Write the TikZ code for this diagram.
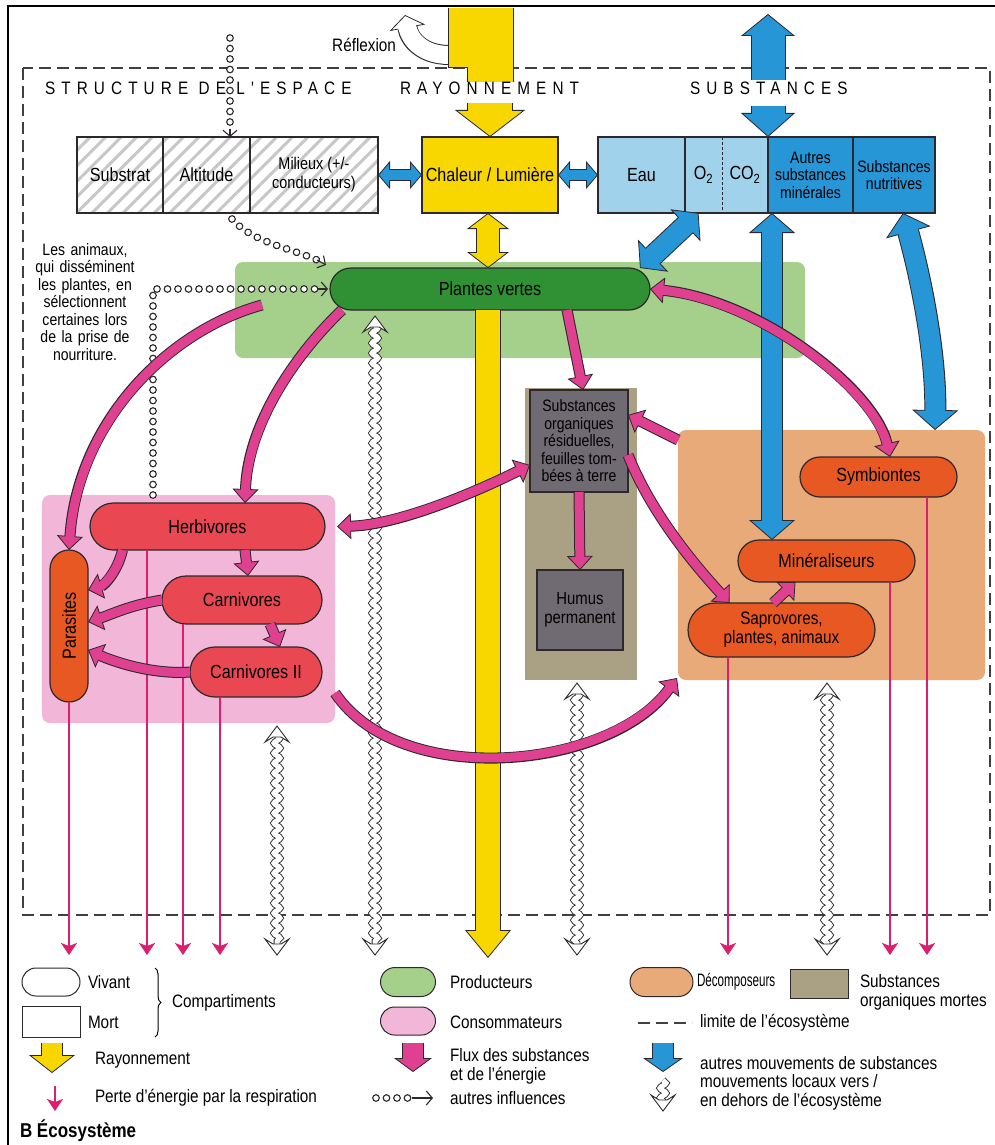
\documentclass[tikz,border=0pt]{standalone}
\usepackage{fontspec}
\usepackage{graphicx}
\setmainfont[FakeStretch=0.85]{Liberation Sans}
\newfontfamily\hdrfont[FakeStretch=0.85,LetterSpace=34]{Liberation Sans}
\usetikzlibrary{arrows.meta,decorations.pathmorphing,decorations.markings,decorations.pathreplacing,patterns.meta,shapes.misc,calc}
\definecolor{yel}{RGB}{248,214,0}
\definecolor{lblue}{RGB}{160,210,236}
\definecolor{dblue}{RGB}{38,150,214}
\definecolor{dgreen}{RGB}{48,145,52}
\definecolor{lgreen}{RGB}{165,208,140}
\definecolor{lpink}{RGB}{242,182,216}
\definecolor{rednode}{RGB}{233,72,82}
\definecolor{orgnode}{RGB}{232,88,34}
\definecolor{decbgc}{RGB}{233,170,122}
\definecolor{deadbgc}{RGB}{170,160,132}
\definecolor{deadbox}{RGB}{112,106,114}
\definecolor{mag}{RGB}{224,64,144}
\definecolor{outl}{RGB}{45,40,45}
\definecolor{resp}{RGB}{220,30,110}
\newcommand\fatone[6]{%
  \draw[draw=outl, line width=#2, -{Triangle[length=#4, width=#5, line width=0.8pt, fill=#1]}] #6;
  \draw[draw=#1, line width=#3, shorten >=#4-2pt] #6;
}
\newcommand\fattwo[6]{%
  \draw[draw=outl, line width=#2, {Triangle[length=#4, width=#5, line width=0.8pt, fill=#1]}-{Triangle[length=#4, width=#5, line width=0.8pt, fill=#1]}] #6;
  \draw[draw=#1, line width=#3, shorten >=#4-2pt, shorten <=#4-2pt] #6;
}
\newcommand\pk[1]{\fatone{mag}{11pt}{9pt}{14pt}{26pt}{#1}}
\newcommand\pktwo[1]{\fattwo{mag}{11pt}{9pt}{14pt}{26pt}{#1}}
\tikzset{
  lab/.style={font=\fontsize{19}{20}\selectfont},
  sml/.style={font=\fontsize{16.5}{17.5}\selectfont},
  lgd/.style={font=\fontsize{18}{19}\selectfont, anchor=west, align=left},
  hdr/.style={font=\hdrfont\fontsize{18}{19}\selectfont, anchor=west},
  bgbox/.style={rectangle, rounded corners=8pt, draw=none},
  live/.style={rounded rectangle, draw=outl, line width=1.2pt},
  dead/.style={rectangle, draw=outl, line width=1.2pt, fill=deadbox},
  topbox/.style={rectangle, draw=outl, line width=1.2pt, minimum height=76pt},
  hatch/.style={topbox, pattern={Lines[angle=45,distance=11pt,line width=3pt]}, pattern color=black!22},
  respar/.style={draw=resp, line width=2.2pt, -{Stealth[length=12pt,width=16pt,inset=3pt]}},
  circ/.style={decorate, decoration={markings, mark=between positions 0 and 1 step 10.5pt with {\draw[draw=outl, fill=white, line width=1.1pt] (0,0) circle (3.3pt);}}},
  chev/.style={draw=outl, line width=1.1pt, -{Straight Barb[length=6pt,width=14pt]}},
  wavy/.style={decorate, decoration={snake, amplitude=3pt, segment length=10pt}, draw=outl, double=white, double distance=5pt, line width=0.9pt},
  whead/.pic={\draw[fill=white, draw=outl, line width=0.9pt] (-12,16) -- (0,0) -- (12,16) -- (4,11) -- (-4,11) -- cycle;},
  boundary/.style={draw=black!75, line width=1.8pt, dash pattern=on 12pt off 6pt},
}
\begin{document}
\begin{tikzpicture}[x=1pt, y=-1pt, every node/.style={inner sep=0pt, outer sep=0pt, align=center, text=black}]
\useasboundingbox (0,0) rectangle (994,1145);
\fill[white] (0,0) rectangle (994,1145);
\draw[line width=2pt] (1000,6) -- (8,6) -- (8,1150);
\draw[boundary] (23,68) rectangle (990,915);

% backgrounds
\node[bgbox, fill=lgreen, minimum width=570pt, minimum height=96pt] (plbg) at (520,310) {};
\node[bgbox, fill=lpink, minimum width=293pt, minimum height=228pt] (consbg) at (188.5,609) {};
\node[rectangle, fill=deadbgc, minimum width=112pt, minimum height=292pt] (deadbg) at (581,534) {};
\node[bgbox, fill=decbgc, minimum width=307pt, minimum height=250pt] (decbg) at (831.5,555) {};

% top row
\node[hatch, minimum width=86pt, lab] (sub) at (120,175) {Substrat};
\node[hatch, minimum width=87pt, lab] (alt) at (206.5,175) {Altitude};
\node[hatch, minimum width=128pt, font=\fontsize{17}{19}\selectfont] (mil) at (314,175) {Milieux (+/-\\conducteurs)};
\node[topbox, fill=yel, minimum width=136pt, lab] (chal) at (490,175) {Chaleur / Lumière};
\node[topbox, draw=none, fill=lblue, minimum width=87pt, lab] (eau) at (641.5,175) {Eau};
\node[topbox, draw=none, fill=lblue, minimum width=37pt, lab] (o2) at (703.5,175) {O\textsubscript{2}};
\node[topbox, draw=none, fill=lblue, minimum width=46pt, lab] (co2) at (745,175) {CO\textsubscript{2}};
\node[topbox, fill=dblue, minimum width=85pt, sml] (aut) at (810.5,175) {Autres\\substances\\minérales};
\node[topbox, fill=dblue, minimum width=82pt, sml] (nut) at (894,175) {Substances\\nutritives};
\draw[draw=outl, line width=1.2pt] (eau.north west) rectangle (co2.south east);
\draw[draw=outl, line width=1.2pt] (eau.north east) -- (eau.south east);
\draw[draw=outl, line width=0.8pt, dash pattern=on 3pt off 2pt] (o2.north east) -- (o2.south east);

% living and dead compartments
\node[live, fill=dgreen, minimum width=320pt, minimum height=42pt, lab] (pl) at (490,289) {Plantes vertes};
\node[live, fill=rednode, minimum width=235pt, minimum height=47pt, lab] (herb) at (207.5,526.5) {Herbivores};
\node[live, fill=rednode, minimum width=160pt, minimum height=48pt, lab] (carn) at (242,600) {Carnivores};
\node[live, fill=rednode, minimum width=132pt, minimum height=50pt, lab] (carn2) at (256,672) {Carnivores II};
\node[live, fill=orgnode, minimum width=152pt, minimum height=38pt, rotate=90, lab] (par) at (69,626) {Parasites};
\node[dead, minimum width=98pt, minimum height=102pt, sml] (subst) at (579,441) {Substances\\organiques\\résiduelles,\\feuilles tom-\\bées à terre};
\node[dead, minimum width=86pt, minimum height=80pt, font=\fontsize{17.5}{19}\selectfont] (humus) at (580,610) {Humus\\permanent};
\node[live, fill=orgnode, minimum width=157pt, minimum height=40pt, lab] (symb) at (878.5,477) {Symbiontes};
\node[live, fill=orgnode, minimum width=177pt, minimum height=42pt, lab] (min) at (826.5,561) {Minéraliseurs};
\node[live, fill=orgnode, minimum width=187pt, minimum height=54pt, font=\fontsize{18}{19}\selectfont] (sapro) at (781.5,630) {Saprovores,\\plantes, animaux};

\node[sml, text width=125pt] (animtxt) at (85,302) {Les animaux,\\qui disséminent\\les plantes, en\\sélectionnent\\certaines lors\\de la prise de\\nourriture.};

% coordinates
\coordinate (rb) at (0,955);
\coordinate (yhs) at (490,103);
\coordinate (ybot) at (488,958);
\coordinate (btop) at (768,14);
\coordinate (bbot) at (768,80);
\coordinate (bhs) at (768,106);
\coordinate (reflst) at (449,55);
\coordinate (reflend) at (405,15);
\coordinate (c1s) at (230,38);

% reflexion and radiation (upper part of the arrow, cut by the header)
\fatone{white}{20pt}{18pt}{13pt}{36pt}{(reflst) .. controls (425,55) and (410,42) .. (reflend)}
\path[fill=yel] (448,8) -- (448,68) -- (467,68) -- (467,82) -- (513,82) -- (513,8) -- cycle;
\draw[draw=outl, line width=1pt] (448,8) -- (448,68) -- (467,68) -- (467,82);
\draw[draw=outl, line width=1pt] (513,8) -- (513,82);
\node[hdr] (h1) at (45,88) {STRUCTURE DE L'ESPACE};
\node[hdr] (h2) at (400,88) {RAYONNEMENT};
\node[hdr] (h3) at (690,88) {SUBSTANCES};
\node[lgd, anchor=east] (refl) at (396,45) {Réflexion};
\fatone{yel}{46pt}{44pt}{27pt}{70pt}{(yhs) -- (chal.north)}
\fatone{dblue}{35pt}{33pt}{22pt}{54pt}{(bbot) -- (btop)}
\fatone{dblue}{35pt}{33pt}{24pt}{54pt}{(bhs) -- (aut.north west)}

% other influences (dotted)
\path[circ] (c1s) -- ([xshift=23.5pt,yshift=12pt]alt.north);
\draw[chev] ([xshift=23.5pt,yshift=8pt]alt.north) -- ([xshift=23.5pt]alt.north);
\coordinate (c2s) at ([xshift=25.5pt,yshift=-6pt]alt.south);
\coordinate (c2e) at ([xshift=-13pt,yshift=29pt]pl.west);
\path[circ] (c2s) .. controls (252,242) and (290,248) .. (c2e);
\draw[chev] (c2e) -- ([xshift=-4pt,yshift=24pt]pl.west);
\path[circ] ([xshift=-35.5pt]consbg.north) |- ([xshift=-14pt]pl.west);
\draw[chev] ([xshift=-12pt]pl.west) -- ([xshift=-2pt]pl.west);

% local movements (wavy)
\coordinate (w1t) at ([xshift=88.5pt,yshift=-3pt]consbg.south);
\coordinate (w2t) at ([xshift=-115pt,yshift=-6pt]pl.south);
\coordinate (w3t) at ([xshift=-4pt,yshift=-3pt]deadbg.south);
\coordinate (w4t) at ([xshift=-4.5pt,yshift=-3pt]decbg.south);
\coordinate (w1b) at (w1t |- rb);
\coordinate (w2b) at (w2t |- rb);
\coordinate (w3b) at (w3t |- rb);
\coordinate (w4b) at (w4t |- rb);
\draw[wavy] ([yshift=-9pt]w1t) -- ([yshift=9pt]w1b);
\draw[wavy] ([yshift=-9pt]w2t) -- ([yshift=9pt]w2b);
\draw[wavy] ([yshift=-9pt]w3t) -- ([yshift=9pt]w3b);
\draw[wavy] ([yshift=-9pt]w4t) -- ([yshift=9pt]w4b);
\pic at (w1t) {whead}; \pic[rotate=180] at (w1b) {whead};
\pic at (w2t) {whead}; \pic[rotate=180] at (w2b) {whead};
\pic at (w3t) {whead}; \pic[rotate=180] at (w3b) {whead};
\pic at (w4t) {whead}; \pic[rotate=180] at (w4b) {whead};

% yellow
\fattwo{yel}{24pt}{22pt}{16pt}{42pt}{([xshift=-2pt]chal.south) -- ([xshift=-2pt]pl.north)}
\fatone{yel}{26pt}{24pt}{28pt}{46pt}{([xshift=-2pt]pl.south) -- (ybot)}

% blue
\fattwo{dblue}{12pt}{10pt}{12pt}{28pt}{(mil.east) -- (chal.west)}
\fattwo{dblue}{12pt}{10pt}{12pt}{28pt}{(chal.east) -- (eau.west)}
\fattwo{dblue}{22pt}{20pt}{18pt}{44pt}{([xshift=57pt]eau.south) -- ([xshift=150pt]pl.north)}
\fattwo{dblue}{22pt}{20pt}{20pt}{46pt}{([xshift=4pt]aut.south west) -- ([xshift=-54.5pt]min.north)}
\fattwo{dblue}{22pt}{20pt}{20pt}{46pt}{([xshift=9pt]nut.south) .. controls (924,290) and (936,360) .. ([xshift=103.5pt]decbg.north)}

% respiration
\draw[respar] (par.west) -- ++(0,253);
\draw[respar] ([xshift=-60.5pt]herb.south) -- ++(0,405);
\draw[respar] ([xshift=-59pt]carn.south) -- ++(0,331);
\draw[respar] ([xshift=-36pt]carn2.south) -- ++(0,258);
\draw[respar] ([xshift=-53.5pt]sapro.south) -- ++(0,298);
\draw[respar] ([xshift=63.5pt]min.south) -- ++(0,373);
\draw[respar] ([xshift=48.5pt]symb.south) -- ++(0,458);

% flows of substances and energy
\pk{([xshift=27pt,yshift=5pt]plbg.west) .. controls (170,330) and (78,420) .. (par.east)}
\pk{([xshift=-148pt]pl.south) .. controls (300,350) and (248,420) .. ([xshift=37.5pt]herb.north)}
\pk{([xshift=77pt]pl.south) -- ([xshift=4pt]subst.north)}
\pktwo{(pl.east) .. controls (760,300) and (875,390) .. ([xshift=11.5pt]symb.north)}
\pk{([yshift=-10pt]decbg.north west) -- ([yshift=26pt]subst.east)}
\pktwo{([yshift=-24pt]subst.west) .. controls (480,490) and (400,525) .. ([xshift=12pt]herb.east)}
\pk{(subst.south) -- (humus.north)}
\pk{([yshift=-14pt]subst.east) .. controls (650,510) and (690,560) .. ([xshift=-52pt]sapro.north)}
\pk{([xshift=-8.5pt]sapro.north) -- ([xshift=-31pt]min.south)}
\pk{([yshift=-84pt]consbg.east) .. controls (400,790) and (610,770) .. ([xshift=-1pt,yshift=2pt]decbg.south west)}
\pk{([xshift=37.5pt]herb.south) -- ([xshift=6pt]carn.north)}
\pk{([xshift=28pt]carn.south) -- ([xshift=24pt]carn2.north)}
\pk{([xshift=-85pt]herb.south) .. controls (118,570) and (105,585) .. ([yshift=36pt]par.south)}
\pk{(carn.west) .. controls (130,605) and (110,615) .. ([yshift=4pt]par.south)}
\pk{(carn2.west) .. controls (150,675) and (110,660) .. ([yshift=-24pt]par.south)}

% legend
\node[rounded rectangle, draw=outl, line width=1pt, minimum width=58pt, minimum height=28pt] (lv) at (51,982) {};
\node[rectangle, draw=outl, line width=1pt, minimum width=58pt, minimum height=31pt] (lm) at (51,1021.5) {};
\node[lgd] (lvt) at (88,982) {Vivant};
\node[lgd] (lmt) at (88,1022) {Mort};
\draw[decorate, decoration={brace, amplitude=6pt}, line width=1pt] (155,968) -- (155,1037);
\node[lgd] (comp) at (172,1003) {Compartiments};
\coordinate (ly1) at (52,1043);
\coordinate (ly2) at (52,1073);
\fatone{yel}{22pt}{20pt}{18pt}{46pt}{(ly1) -- (ly2)}
\node[lgd] (lyt) at (95,1060) {Rayonnement};
\coordinate (lr1) at (55,1086);
\coordinate (lr2) at (55,1111);
\draw[respar] (lr1) -- (lr2);
\node[lgd] (lrt) at (95,1098) {Perte d'énergie par la respiration};
\node[anchor=west, font=\bfseries\fontsize{20}{21}\selectfont] (title) at (20,1131) {B Écosystème};

\node[rounded rectangle, draw=outl, line width=1pt, fill=lgreen, minimum width=55pt, minimum height=29pt] (lprod) at (408,982) {};
\node[lgd] (lprodt) at (450,982) {Producteurs};
\node[rounded rectangle, draw=outl, line width=1pt, fill=lpink, minimum width=55pt, minimum height=28pt] (lcons) at (408,1021) {};
\node[lgd] (lconst) at (450,1022) {Consommateurs};
\coordinate (lp1) at (413,1043);
\coordinate (lp2) at (413,1072);
\fatone{mag}{22pt}{20pt}{14pt}{38pt}{(lp1) -- (lp2)}
\node[lgd] (lpt) at (450,1066) {Flux des substances\\et de l'énergie};
\coordinate (lc1) at (376,1098);
\coordinate (lc2) at (416,1098);
\coordinate (lc3) at (433,1098);
\path[circ] (lc1) -- (lc2);
\draw[chev] ([xshift=-4pt]lc2) -- (lc3);
\node[lgd] (lct) at (450,1098) {autres influences};

\node[rounded rectangle, draw=outl, line width=1pt, fill=decbgc, minimum width=63pt, minimum height=29pt] (ldec) at (661.5,982) {};
\node[lgd] (ldect) at (697,982) {\scalebox{0.76}[1]{Décomposeurs}};
\node[rectangle, draw=outl, line width=1pt, fill=deadbgc, minimum width=58pt, minimum height=29pt] (ldead) at (819,983.5) {};
\node[lgd] (ldeadt) at (860,992) {Substances\\organiques mortes};
\coordinate (ld1) at (638,1023);
\coordinate (ld2) at (692,1023);
\draw[boundary] (ld1) -- (ld2);
\node[lgd] (ldt) at (700,1023) {limite de l'écosystème};
\coordinate (lb1) at (663,1043);
\coordinate (lb2) at (663,1072);
\fatone{dblue}{22pt}{20pt}{14pt}{40pt}{(lb1) -- (lb2)}
\node[lgd] (lbt) at (700,1063) {autres mouvements de substances};
\coordinate (lw1) at (663,1080);
\coordinate (lw2) at (663,1111);
\draw[wavy] (lw1) -- ([yshift=9pt]lw2);
\pic[rotate=180] at (lw2) {whead};
\node[lgd] (lwt) at (700,1092) {mouvements locaux vers /\\en dehors de l'écosystème};
\end{tikzpicture}
\end{document}
